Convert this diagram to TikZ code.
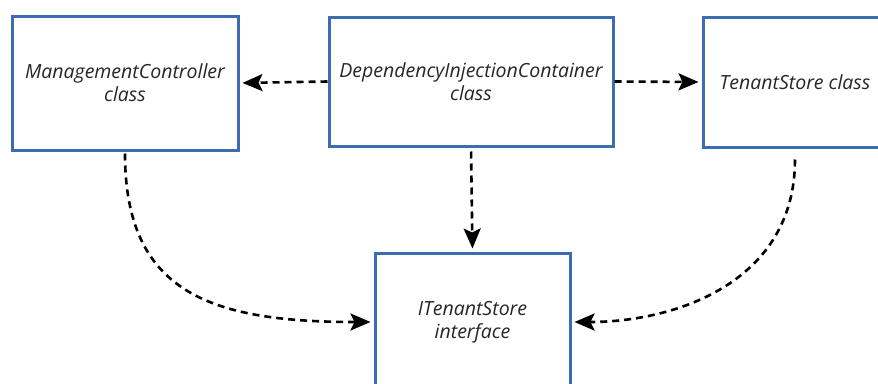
\documentclass[tikz,border=0pt]{standalone}
\usepackage{fontspec}
\setmainfont{Open Sans}
\usepackage{tikz}
\usetikzlibrary{arrows.meta,positioning,calc}
\definecolor{boxblue}{RGB}{61,108,178}
\tikzstyle{classbox}=[draw=boxblue,line width=3pt,align=center,inner sep=0pt,
  font=\fontsize{19.5}{23}\selectfont\itshape,text=black!85]
\tikzstyle{dep}=[line width=2.6pt,dash pattern=on 7pt off 5pt,
  -{Stealth[length=20pt,width=17pt,inset=4pt]},shorten >=3pt]

\begin{document}
\begin{tikzpicture}[x=1pt,y=-1pt]
    \useasboundingbox (0,0) rectangle (878,383);
    \clip (0,0) rectangle (878,383);
    \node [classbox,minimum width=226pt,minimum height=134pt] (mc) at (125,83)
      {ManagementController\\class};
    \node [classbox,minimum width=284pt,minimum height=129pt] (dic) at (471,81.5)
      {DependencyInjectionContainer\\class};
    \node [classbox,minimum width=184pt,minimum height=130pt] (ts) at (795,82)
      {TenantStore class};
    \node [classbox,minimum width=195pt,minimum height=138pt] (its) at (472.5,322)
      {ITenantStore\\interface};
    % dependencies
    \draw [dep] (dic.west) -- (mc.east);
    \draw [dep] (dic.east) -- (ts.west);
    \draw [dep,shorten <=4pt] (dic.south) -- (its.north);
    \draw [dep,shorten <=2pt] (mc.south) .. controls +(0,140) and +(-165,0) .. (its.west);
    \draw [dep,shorten <=11pt] (ts.south) .. controls +(0,133) and +(105,0) .. (its.east);
\end{tikzpicture}
\end{document}
